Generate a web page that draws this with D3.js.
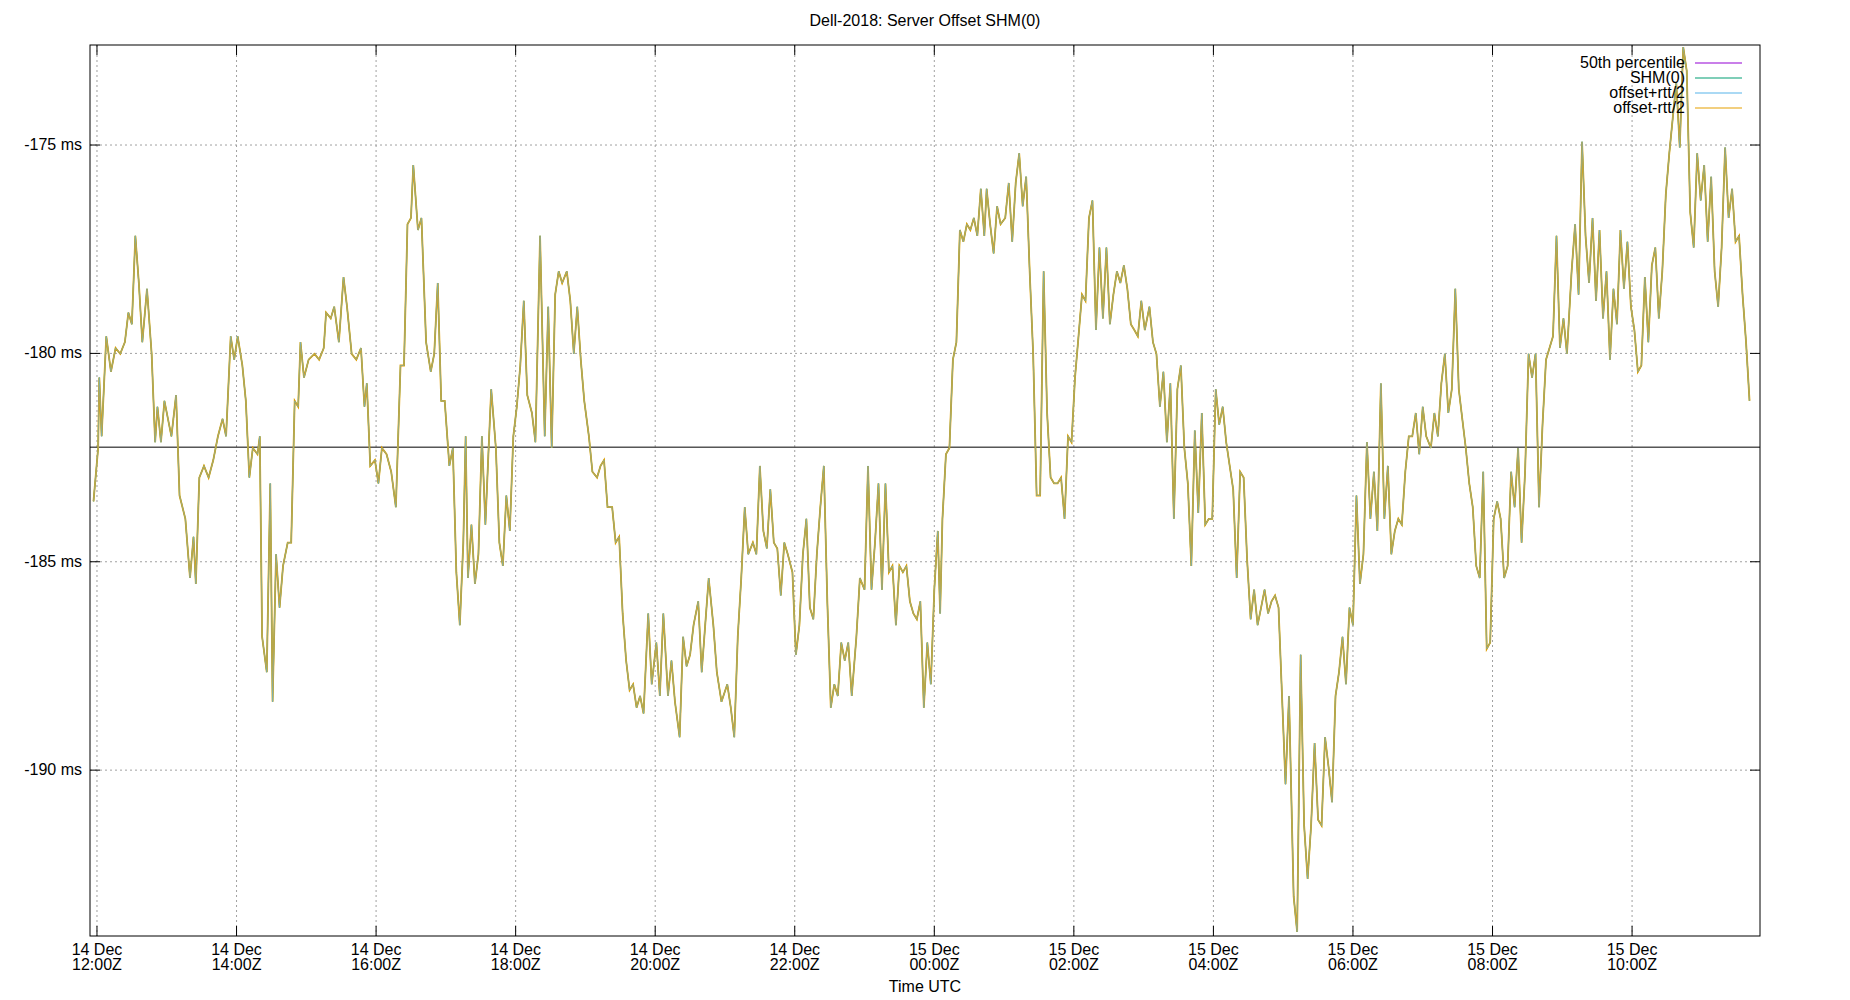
<!DOCTYPE html>
<html><head><meta charset="utf-8">
<script src="https://cdn.jsdelivr.net/npm/d3@7"></script>
<style>body{margin:0;background:#fff}text{font-family:"Liberation Sans",Arial,sans-serif;fill:#000}</style>
</head><body><svg id="c" width="1850" height="1000"></svg>
<script>
const startTime = "2018-12-14T12:00:00Z";
const minutes = [-3,1,2,4,8,12,16,20,24,27,30,33,36,39,43,47,50,52,55,58,64,68,71,76,80,83,85,88,92,96,100,104,108,111,115,118,121,125,128,131,134,138,140,142,146,149,151,154,157,160,164,167,170,173,175,178,182,187,191,195,197,201,204,208,212,215,219,223,227,230,232,235,239,242,245,249,253,257,261,264,267,270,272,276,279,283,287,290,293,296,299,303,306,309,312,315,317,319,322,325,328,331,334,337,339,343,346,349,352,355,358,361,364,367,370,374,377,381,385,388,391,394,397,400,404,407,410,413,416,419,423,426,430,433,436,439,443,446,449,452,455,458,461,464,467,470,474,477,481,484,487,491,494,497,501,504,507,510,513,517,520,523,526,530,533,537,542,545,548,551,554,557,560,564,567,570,573,576,579,582,585,588,591,594,598,601,604,607,610,613,616,619,622,625,628,631,634,637,640,643,646,649,653,656,660,663,666,669,672,675,678,681,684,687,690,693,696,699,702,705,708,711,714,717,720,723,725,727,730,733,736,739,742,745,748,751,754,757,760,763,765,768,771,774,777,781,784,787,790,793,796,799,802,805,808,811,814,817,820,823,826,829,832,835,838,841,844,847,850,853,856,859,862,865,868,871,874,877,880,883,886,889,892,895,898,901,905,908,911,914,917,920,923,926,929,932,935,938,941,944,947,950,953,956,959,962,965,968,971,974,977,980,983,986,989,992,995,998,1001,1004,1007,1010,1013,1016,1019,1022,1025,1029,1032,1035,1038,1041,1044,1047,1050,1053,1056,1059,1062,1065,1068,1071,1074,1077,1080,1083,1086,1089,1092,1095,1098,1101,1104,1107,1110,1113,1116,1119,1122,1125,1128,1131,1134,1137,1140,1143,1147,1150,1153,1156,1159,1162,1165,1168,1171,1174,1177,1180,1183,1186,1189,1192,1195,1198,1201,1204,1207,1210,1213,1216,1219,1222,1225,1228,1231,1234,1237,1240,1243,1246,1249,1252,1255,1258,1261,1264,1268,1271,1274,1277,1280,1283,1286,1289,1292,1295,1298,1301,1304,1307,1310,1313,1316,1319,1322,1325,1328,1331,1334,1337,1340,1343,1346,1349,1352,1355,1358,1361,1364,1367,1370,1373,1376,1379,1382,1385,1388,1391,1394,1397,1400,1403,1406,1409,1412,1415,1418,1421];
const offsetMs = [-183.55,-182.27,-180.58,-181.99,-179.59,-180.44,-179.87,-180.01,-179.73,-179.02,-179.30,-177.18,-178.31,-179.73,-178.45,-180.01,-182.13,-181.28,-182.13,-181.14,-181.99,-181.00,-183.41,-183.97,-185.39,-184.40,-185.53,-182.98,-182.70,-182.98,-182.56,-181.99,-181.57,-181.99,-179.59,-180.15,-179.59,-180.29,-181.14,-182.98,-182.27,-182.42,-181.99,-186.80,-187.65,-183.12,-188.36,-184.82,-186.10,-185.10,-184.54,-184.54,-181.14,-181.28,-179.73,-180.58,-180.15,-180.01,-180.15,-179.87,-179.02,-179.16,-178.88,-179.73,-178.17,-178.88,-180.01,-180.15,-179.87,-181.28,-180.72,-182.70,-182.56,-183.12,-182.27,-182.42,-182.84,-183.69,-180.29,-180.29,-176.90,-176.75,-175.48,-177.04,-176.75,-179.73,-180.44,-180.01,-178.31,-181.14,-181.14,-182.70,-182.27,-185.25,-186.52,-184.54,-181.99,-185.39,-184.11,-185.53,-184.82,-181.99,-184.11,-182.13,-180.86,-182.27,-184.54,-185.10,-183.41,-184.26,-181.99,-181.28,-180.29,-178.74,-181.00,-181.43,-182.13,-177.18,-181.99,-178.88,-182.27,-178.59,-178.03,-178.31,-178.03,-178.74,-180.01,-178.88,-180.15,-181.14,-181.99,-182.84,-182.98,-182.70,-182.56,-183.69,-183.69,-184.54,-184.40,-186.24,-187.37,-188.08,-187.94,-188.50,-188.22,-188.64,-186.24,-187.94,-186.94,-188.22,-186.24,-188.22,-187.37,-188.36,-189.21,-186.80,-187.51,-187.23,-186.52,-185.95,-187.65,-186.52,-185.39,-186.52,-187.65,-188.36,-187.94,-188.50,-189.21,-186.80,-185.39,-183.69,-184.82,-184.54,-184.82,-182.70,-184.26,-184.68,-183.26,-184.54,-184.68,-185.81,-184.54,-184.82,-185.25,-187.23,-186.52,-184.82,-183.97,-186.10,-186.38,-184.82,-183.69,-182.70,-185.95,-188.50,-187.94,-188.22,-186.94,-187.37,-186.94,-188.22,-186.80,-185.39,-185.67,-182.70,-185.67,-184.54,-183.12,-185.67,-183.12,-185.25,-185.10,-186.52,-185.10,-185.25,-185.10,-185.95,-186.24,-186.38,-185.95,-188.50,-186.94,-187.94,-185.67,-184.26,-186.24,-183.97,-182.42,-182.27,-180.15,-179.73,-177.04,-177.32,-176.90,-177.04,-176.75,-177.18,-176.05,-177.18,-176.05,-176.90,-177.60,-176.47,-176.90,-176.75,-175.91,-177.32,-175.91,-175.20,-176.47,-175.76,-178.03,-180.01,-183.41,-183.41,-178.03,-181.43,-182.98,-183.12,-183.12,-182.98,-183.97,-181.99,-182.13,-180.58,-179.59,-178.59,-178.74,-176.75,-176.33,-179.44,-177.46,-179.16,-177.46,-179.30,-178.59,-178.03,-178.31,-177.89,-178.45,-179.30,-179.44,-179.59,-178.74,-179.44,-178.88,-179.73,-180.01,-181.28,-180.44,-182.13,-180.72,-183.97,-180.86,-180.29,-182.27,-183.12,-185.10,-181.85,-183.83,-181.43,-184.11,-183.97,-183.97,-180.86,-181.71,-181.28,-182.13,-182.70,-183.26,-185.39,-182.84,-182.98,-184.96,-186.38,-185.67,-186.52,-186.10,-185.67,-186.24,-185.95,-185.81,-186.10,-188.22,-190.34,-188.22,-193.03,-193.88,-187.23,-191.33,-192.61,-191.33,-189.35,-191.19,-191.33,-189.21,-189.92,-190.77,-188.22,-187.65,-186.80,-187.94,-186.10,-186.52,-183.41,-185.53,-184.82,-182.13,-183.97,-182.84,-184.26,-180.72,-183.97,-182.70,-184.82,-184.26,-183.97,-184.11,-182.84,-181.99,-181.99,-181.43,-182.42,-181.28,-181.99,-182.27,-181.43,-181.99,-180.72,-180.01,-181.43,-180.86,-178.45,-180.86,-181.57,-182.27,-183.12,-183.69,-185.10,-185.39,-182.84,-187.09,-186.94,-183.97,-183.55,-183.97,-185.39,-185.10,-182.84,-183.69,-182.27,-184.54,-182.84,-180.01,-180.58,-180.01,-183.69,-181.71,-180.15,-179.87,-179.59,-177.18,-179.87,-179.16,-180.01,-178.03,-176.90,-178.59,-174.92,-177.18,-178.31,-176.75,-178.74,-177.04,-179.16,-178.03,-180.15,-178.45,-179.30,-177.04,-178.45,-177.32,-178.88,-179.44,-180.44,-180.29,-178.17,-179.73,-177.89,-177.46,-179.16,-178.03,-176.19,-175.20,-174.35,-173.50,-175.06,-172.65,-173.22,-176.61,-177.46,-175.20,-176.33,-175.48,-177.32,-175.76,-178.03,-178.88,-177.46,-175.06,-176.75,-176.05,-177.32,-177.18,-178.59,-179.73,-181.14];
const medianMs = -182.25;
const yTicks = [-175, -180, -185, -190];
const yDomain = [-193.98, -172.6];
const xDomainMin = [-6, 1430];
const seriesNames = ["50th percentile", "SHM(0)", "offset+rtt/2", "offset-rtt/2"];
const seriesColors = ["#9400d3", "#009e73", "#56b4e9", "#e69f00"];

const svg = d3.select("#c");
const L=90, R=1760, T=45, B=936, FS=16;
const t0 = new Date(startTime).getTime();
const toDate = m => new Date(t0 + m*60000);
const x = d3.scaleUtc().domain(xDomainMin.map(toDate)).range([L,R]);
const y = d3.scaleLinear().domain(yDomain).range([B,T]);
const data = minutes.map((m,i)=>({t:toDate(m), v:offsetMs[i]}));

svg.append("text").attr("x",(L+R)/2).attr("y",26).attr("text-anchor","middle").attr("font-size",FS).text("Dell-2018: Server Offset SHM(0)");

const xt = d3.range(0,1440,120).map(toDate);
const g = svg.append("g");
xt.forEach(d=>{
  g.append("line").attr("x1",x(d)).attr("x2",x(d)).attr("y1",T).attr("y2",B).attr("stroke","#a0a0a0").attr("stroke-dasharray","2,3");
  g.append("line").attr("x1",x(d)).attr("x2",x(d)).attr("y1",B).attr("y2",B-10).attr("stroke","#000");
  g.append("line").attr("x1",x(d)).attr("x2",x(d)).attr("y1",T).attr("y2",T+10).attr("stroke","#000");
  const tx = svg.append("text").attr("x",x(d)).attr("y",955).attr("text-anchor","middle").attr("font-size",FS);
  tx.append("tspan").attr("x",x(d)).text(d3.utcFormat("%d %b")(d));
  tx.append("tspan").attr("x",x(d)).attr("dy",15).text(d3.utcFormat("%H:%MZ")(d));
});
yTicks.forEach(v=>{
  g.append("line").attr("x1",L).attr("x2",R).attr("y1",y(v)).attr("y2",y(v)).attr("stroke","#a0a0a0").attr("stroke-dasharray","2,3");
  g.append("line").attr("x1",L).attr("x2",L+10).attr("y1",y(v)).attr("y2",y(v)).attr("stroke","#000");
  g.append("line").attr("x1",R).attr("x2",R-10).attr("y1",y(v)).attr("y2",y(v)).attr("stroke","#000");
  svg.append("text").attr("x",L-8).attr("y",y(v)+5).attr("text-anchor","end").attr("font-size",FS).text(v+" ms");
});
svg.append("text").attr("x",(L+R)/2).attr("y",992).attr("text-anchor","middle").attr("font-size",FS).text("Time UTC");

svg.append("clipPath").attr("id","cp").append("rect").attr("x",L).attr("y",T).attr("width",R-L).attr("height",B-T);
const pg = svg.append("g").attr("clip-path","url(#cp)");
pg.append("line").attr("x1",L).attr("x2",R).attr("y1",y(medianMs)).attr("y2",y(medianMs)).attr("stroke","#000").attr("stroke-width",1);
const line = d3.line().x(d=>x(d.t)).y(d=>y(d.v));
pg.append("path").datum(data).attr("d",line).attr("fill","none").attr("stroke",seriesColors[1]).attr("stroke-width",1.2);
pg.append("path").datum(data).attr("d",line).attr("fill","none").attr("stroke",seriesColors[3]).attr("stroke-width",1.8);
pg.append("path").datum(data).attr("d",line).attr("fill","none").attr("stroke",seriesColors[2]).attr("stroke-width",0.9).attr("opacity",0.6);

svg.append("rect").attr("x",L).attr("y",T).attr("width",R-L).attr("height",B-T).attr("fill","none").attr("stroke","#000");

seriesNames.forEach((n,i)=>{
  const yy = 63 + i*15;
  svg.append("text").attr("x",1685).attr("y",yy+5).attr("text-anchor","end").attr("font-size",FS).text(n);
  svg.append("line").attr("x1",1695).attr("x2",1742).attr("y1",yy).attr("y2",yy).attr("stroke",seriesColors[i]).attr("stroke-width",1.2);
});
</script></body></html>
